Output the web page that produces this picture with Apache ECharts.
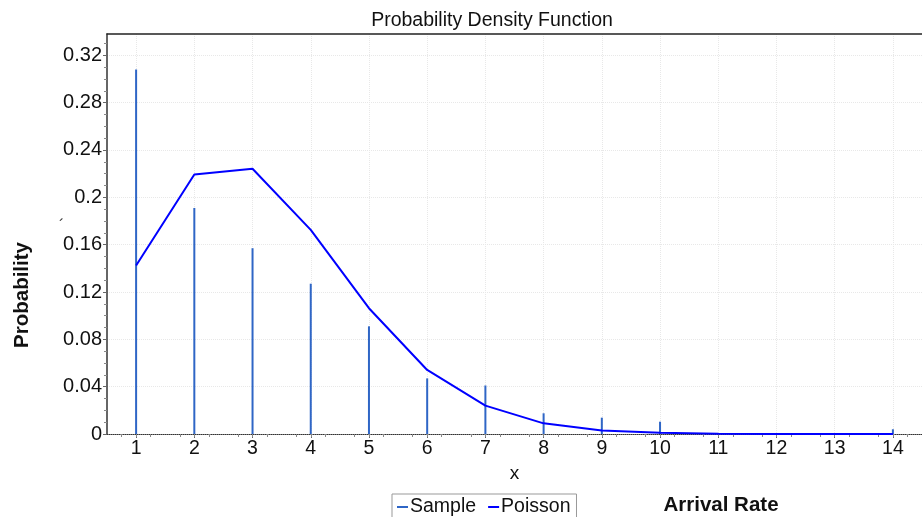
<!DOCTYPE html>
<html><head><meta charset="utf-8">
<script src="https://cdn.jsdelivr.net/npm/echarts@6/dist/echarts.min.js"></script>
<style>html,body{margin:0;padding:0;background:#fff}#c{width:922px;height:517px}</style>
</head><body><div id="c"></div>
<script>
const xValues = [1,2,3,4,5,6,7,8,9,10,11,12,13,14];
const sampleValues = [0.308,0.191,0.157,0.127,0.091,0.047,0.041,0.0175,0.0138,0.0104,0,0,0,0.004];
const poissonValues = [0.1424,0.2193,0.2241,0.1725,0.1063,0.0541,0.0240,0.0090,0.0030,0.0010,0.0003,0.0001,0.00002,0.000005];
const yTicks = [0,0.04,0.08,0.12,0.16,0.2,0.24,0.28,0.32];

const F = 'Liberation Sans, Arial, sans-serif';
const chart = echarts.init(document.getElementById('c'));
chart.setOption({
  animation: false,
  backgroundColor: '#fff',
  title: {text: 'Probability Density Function', left: 487, top: 6, textAlign: 'center',
    textStyle: {fontFamily: F, fontSize: 19.5, fontWeight: 'normal', color: '#111'}},
  grid: {left: 107, right: -9, top: 34, bottom: 83, containLabel: false},
  legend: {
    data: ['Sample','Poisson'], left: 392, top: 494, width: 200,
    borderColor: '#999', borderWidth: 1, padding: [3,6,3,5], itemGap: 12,
    icon: 'rect', itemWidth: 11, itemHeight: 2,
    textStyle: {fontFamily: F, fontSize: 19.5, color: '#111', padding: [0,0,0,-3]}
  },
  xAxis: [{
    type: 'value', min: 0.5, max: 14.5, interval: 1,
    name: 'x', nameLocation: 'middle', nameGap: 23,
    nameTextStyle: {fontFamily: F, fontSize: 19, color: '#111'},
    axisLine: {show: true, lineStyle: {color: '#333', type: 'dotted', width: 1}},
    axisTick: {show: true, length: 4, lineStyle: {color: '#666'}, customValues: xValues},
    minorTick: {show: true, splitNumber: 4, length: 3, lineStyle: {color: '#888'}},
    axisLabel: {fontFamily: F, fontSize: 19.5, color: '#111', margin: 5, customValues: xValues},
    splitLine: {show: true, lineStyle: {color: '#e8e8e8', type: 'dotted'}, customValues: xValues}
  },{
    type: 'value', position: 'top', min: 0.5, max: 14.5,
    axisLine: {show: true, onZero: false, lineStyle: {color: '#222', width: 1.5}},
    axisTick: {show: false}, axisLabel: {show: false}, splitLine: {show: false}
  }],
  yAxis: {
    type: 'value', min: 0, max: 0.338, interval: 0.04,
    axisLine: {show: true, lineStyle: {color: '#333', width: 1.5}},
    axisTick: {show: true, length: 4, lineStyle: {color: '#666'}, customValues: yTicks},
    minorTick: {show: true, splitNumber: 4, length: 3, lineStyle: {color: '#888'}},
    axisLabel: {fontFamily: F, fontSize: 20, color: '#111', margin: 5, customValues: yTicks,
      formatter: v => (Math.round(v*100)/100).toString()},
    splitLine: {show: true, lineStyle: {color: '#e8e8e8', type: 'dotted'}, customValues: yTicks}
  },
  graphic: [
    {type: 'text', x: 22, y: 295, rotation: Math.PI/2,
      style: {text: 'Probability', fontFamily: F, fontSize: 20.5, fontWeight: 'bold', fill: '#111', align: 'center', verticalAlign: 'middle'}},
    {type: 'text', x: 721, y: 505, style: {text: 'Arrival Rate', fontFamily: F, fontSize: 20.5, fontWeight: 'bold', fill: '#111', align: 'center', verticalAlign: 'middle'}},
    {type: 'text', x: 59, y: 219, style: {text: '´', fontFamily: F, fontSize: 16, fill: '#333'}}
  ],
  series: [
    {name: 'Sample', type: 'bar', barWidth: 2, color: '#2f66c6',
      data: xValues.map((x,i) => [x, sampleValues[i]])},
    {name: 'Poisson', type: 'line', color: '#0000ff', symbol: 'none', lineStyle: {width: 2, color: '#0000ff'},
      data: xValues.map((x,i) => [x, poissonValues[i]])}
  ]
});
</script></body></html>
